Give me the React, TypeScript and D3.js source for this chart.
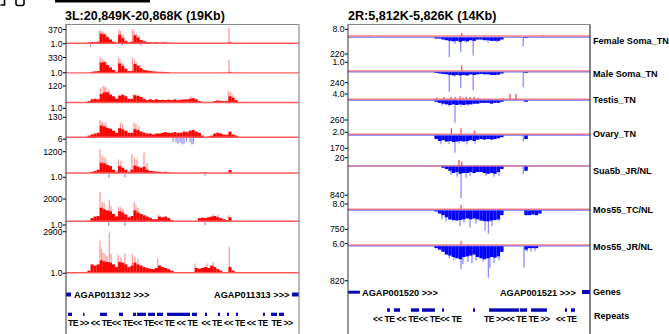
import * as d3 from 'd3';

type Pt = [number, number];

// ---------- left view: 3L, positions in kb from window start ----------
const leftTitle = '3L:20,849K-20,868K (19Kb)';
const leftSpanKb = 19;
const leftTopTicks = ['370', '330', '120', '130', '1200', '2000', '2900'];
const leftBottomTicks = ['1.0', '1.0', '1.0', '6', '1.0', '1.0', '1.0'];
const leftBinStart = 1.75;
const leftBinKb = 0.25;

// mean signal per 250bp bin (red body)
const l1Bins = [1.5, 1.8, 1.6, 2, 60, 45, 14, 5, 2, 1.3, 40, 10, 3, 1.5, 2, 30, 12, 4, 2.5, 1.8, 1.5, 1.4, 1.6, 1.3, 1.5, 1.4, 1.3, 0, 0, 0, 0, 0, 0, 0, 0, 0, 0, 0, 0, 0, 0, 0, 0, 0, 0, 0, 1.5, 0, 0, 0, 0];
const l2Bins = [1, 1.5, 1.8, 2, 50, 60, 20, 8, 3, 1.5, 35, 15, 5, 2, 2, 30, 15, 6, 3, 2.5, 2, 1.8, 1.6, 1.5, 1.5, 1.4, 1.3, 0, 0, 0, 0, 0, 0, 0, 0, 0, 0, 0, 0, 0, 0, 0, 0, 0, 0, 0, 1.5, 0, 0, 0, 0];
const l3Bins = [1.5, 2.5, 3, 2.5, 12, 18, 20, 10, 6, 3, 7, 9, 6, 3, 3, 8, 7, 5, 3, 2, 2.5, 2, 2.5, 2, 2.2, 2, 2.3, 2, 2.5, 2, 2.2, 2.5, 2.5, 3, 3.5, 2.5, 1.5, 1.2, 0, 0, 0, 1.5, 1.8, 1.6, 1.5, 1.6, 6, 4, 2, 0, 0];
const l4Bins = [1.5, 2, 2.5, 3, 18, 14, 10, 8, 5, 3, 9, 7, 5, 3, 3, 7, 6, 4, 3, 2.5, 2.5, 2, 2.5, 2.5, 3, 3.5, 3, 3, 3.5, 3, 3, 4, 3.5, 5, 6, 4, 3, 1.5, 0, 1.2, 1.5, 2.5, 3, 2.5, 2, 1.8, 4, 2, 1.5, 0, 0];
const l5Bins = [0, 1.5, 2, 3, 30, 25, 15, 10, 3, 1.5, 10, 6, 3, 1.5, 3, 12, 8, 6, 8, 3, 2, 1.8, 1.6, 1.5, 1.3, 1.5, 1.2, 0, 0, 0, 0, 0, 0, 0, 0, 0, 0, 0, 1.3, 0, 0, 0, 0, 0, 0, 0, 2.7, 0, 0, 0, 0];
const l6Bins = [1.2, 3, 5, 6, 100, 60, 40, 30, 12, 5, 30, 20, 10, 4, 6, 40, 20, 12, 8, 5, 3, 2, 2, 5, 4, 5, 3, 1.5, 0, 0, 0, 0, 0, 0, 0, 0, 3, 3.5, 3, 4, 5, 6, 4, 3, 2, 1.5, 4, 0, 0, 0, 0];
const l7Bins = [1.5, 5, 4, 5, 11, 9, 8, 7, 5, 3, 8, 7, 5, 3, 4, 7, 5, 4, 3, 2.5, 2.2, 2, 2.5, 4, 3, 2.5, 2, 1.5, 0, 0, 0, 0, 0, 0, 0, 2.5, 2.2, 2.5, 3, 2.5, 4, 3, 2, 1.5, 0, 0, 3, 1.5, 0, 0, 0];

// max signal spikes [kb, value] (pink)
const l1Peaks: Pt[] = [[2.73, 270], [2.85, 200], [3.02, 150], [3.18, 90], [3.34, 40], [4.32, 370], [4.44, 200], [4.65, 50], [5.42, 400], [5.55, 180], [5.71, 60], [5.95, 25], [13.29, 900]];
const l2Peaks: Pt[] = [[2.77, 450], [2.94, 200], [3.1, 120], [3.34, 50], [4.28, 300], [4.4, 150], [4.65, 40], [5.42, 320], [5.59, 140], [5.79, 50], [6.03, 20], [13.29, 130]];
const l3Peaks: Pt[] = [[2.81, 60], [3.02, 120], [3.14, 100], [3.26, 70], [3.51, 40], [4.32, 10], [4.57, 12], [4.81, 8], [5.5, 12], [5.63, 11], [5.87, 7], [10.19, 6], [13.25, 31], [13.41, 20], [13.62, 10]];
const l4Peaks: Pt[] = [[2.77, 67], [2.94, 50], [3.1, 40], [3.26, 30], [4.44, 35], [4.61, 25], [5.55, 35], [5.71, 25], [5.95, 15], [10.19, 5], [10.36, 5], [13.29, 3]];
const l5Peaks: Pt[] = [[2.77, 2500], [2.94, 300], [3.1, 200], [3.26, 100], [4.28, 95], [4.49, 60], [5.38, 550], [5.59, 150], [5.79, 100], [6.36, 850], [6.61, 30]];
const l6Peaks: Pt[] = [[2.77, 24000], [2.94, 800], [3.1, 600], [3.53, 1400], [3.67, 200], [4.28, 130], [4.44, 120], [4.61, 80], [5.57, 640], [5.71, 150], [5.87, 90], [7.54, 10], [11.99, 12], [12.4, 10], [13.29, 8]];
const l7Peaks: Pt[] = [[2.77, 500], [2.89, 100], [3.02, 50], [3.18, 40], [3.34, 25], [3.53, 2400], [3.67, 40], [4.26, 31], [4.49, 20], [4.81, 43], [5.41, 40], [5.63, 20], [5.87, 15], [7.48, 16], [10.52, 6], [11.5, 6], [11.99, 8], [13.32, 150]];

// antisense reads (blue, below)
const l1Neg: Pt[] = [[2.01, 3.3], [4.6, 2], [6.1, 2]];
const l4Neg: Pt[] = [[8.73, 2.5], [8.97, 3], [9.13, 4], [9.3, 3], [9.46, 5], [9.62, 4], [9.83, 2.5], [10.11, 3], [10.27, 5], [10.4, 4]];
const l5Neg: Pt[] = [[3.51, 3.8], [4.81, 3.5], [11.34, 2]];
const l6Neg: Pt[] = [[3.48, 4], [4.81, 4], [11.34, 3]];

const leftBins = [l1Bins, l2Bins, l3Bins, l4Bins, l5Bins, l6Bins, l7Bins];
const leftPeaks = [l1Peaks, l2Peaks, l3Peaks, l4Peaks, l5Peaks, l6Peaks, l7Peaks];
const leftNeg: Pt[][] = [l1Neg, [], [], l4Neg, l5Neg, l6Neg, []];

const leftGenes = [
  { name: 'AGAP011312 >>>', start: 0, end: 0.41, labelAt: 0.65 },
  { name: 'AGAP011313 >>>', start: 18.43, end: 19, labelAt: 12.07 },
];
const leftRepeats: Pt[] = [[0.16, 0.49], [1.39, 1.51], [2.77, 3.34], [4.32, 4.65], [5.46, 5.71], [5.79, 6.52], [6.69, 7.26], [7.42, 7.91], [8.24, 10.11], [10.27, 10.68], [11.33, 11.5], [12.39, 12.56], [13.13, 13.29], [13.86, 14.03], [16.06, 16.22], [16.72, 17.21], [17.37, 17.78]];
const leftRepeatLabels = [{ text: 'TE >> << TE<< TE<< TE<< TE << TE  << TE << TE << TE  TE >>', start: 0.16, end: 18.51 }];

// ---------- right view: 2R ----------
const rightTitle = '2R:5,812K-5,826K (14Kb)';
const rightSpanKb = 14;
const rightNames = ['Female Soma_TN', 'Male Soma_TN', 'Testis_TN', 'Ovary_TN', 'Sua5b_JR/NL', 'Mos55_TC/NL', 'Mos55_JR/NL'];
const rightTopTicks = ['8.0', '1.0', '4.0', '2.0', '20', '8.0', '6.0'];
const rightBottomTicks = ['220', '240', '260', '170', '840', '750', '820'];
const rightBinStart = 5.0;
const rightBinKb = 0.2;

const r1Bins = [1.5, 1.5, 2, 2.5, 3, 3.5, 3, 4, 3, 3.5, 2.5, 3, 2, 2, 2.5, 2.5, 3, 3, 3, 2, 0, 0, 0, 0, 0, 0, 1.3, 0, 0, 0, 0];
const r2Bins = [1.5, 2, 2.5, 3, 4, 5, 4, 5, 4, 5, 3, 4, 3, 2.5, 3, 3, 4, 4, 3.5, 2, 0, 0, 0, 0, 0, 0, 1.5, 0, 0, 0, 0];
const r3Bins = [1.5, 2, 2.5, 3, 3.5, 3, 3.5, 3, 3.5, 3, 3, 2.5, 2.5, 2, 2, 2, 2.5, 2, 2, 1.5, 0, 0, 0, 0, 0, 0, 1.5, 0, 0, 0, 0];
const r4Bins = [4, 8, 6, 10, 8, 12, 10, 8, 10, 8, 6, 8, 5, 4, 5, 4, 5, 4, 3, 2, 0, 0, 0, 0, 0, 0, 4, 0, 0, 0, 0];
const r5Bins = [0, 0, 1.5, 2, 3, 5, 4, 6, 5, 5, 4, 5, 4, 4, 5, 6, 5, 6, 4, 2, 0, 0, 0, 0, 0, 0, 3, 0, 0, 0, 0];
const r6Bins = [1.5, 3, 5, 10, 20, 25, 30, 25, 20, 15, 20, 15, 20, 30, 35, 40, 30, 25, 20, 5, 0, 0, 0, 0, 0, 0, 5, 5, 4, 5, 3];
const r7Bins = [1.5, 2, 3, 5, 6, 8, 10, 12, 8, 7, 6, 5, 8, 10, 12, 10, 8, 9, 7, 3, 0, 0, 0, 0, 0, 0, 2, 1.5, 1.5, 1.5, 0];

const r1Spikes: Pt[] = [[5.86, 420], [6.52, 78], [7.24, 240], [10.14, 16], [6.19, 7], [6.83, 5], [8.1, 5], [8.62, 5]];
const r2Spikes: Pt[] = [[5.86, 9900], [6.52, 2000], [7.24, 5200], [10.14, 1100], [6.19, 8], [6.83, 6]];
const r3Spikes: Pt[] = [[6.19, 410], [5.84, 5], [6.54, 5], [5.44, 4], [6.94, 4]];
const r4Spikes: Pt[] = [[6.19, 585], [5.38, 27], [5.84, 25], [6.42, 20], [6.88, 30], [7.35, 20], [10.14, 10]];
const r5Spikes: Pt[] = [[6.54, 1650], [5.96, 8], [6.31, 12], [6.83, 15], [7.06, 10], [7.98, 10], [8.45, 12], [8.74, 10], [10.14, 6.6]];
const r6Spikes: Pt[] = [[5.86, 24], [6.48, 200], [7.06, 275], [8.12, 2460], [7.93, 850], [6.07, 40], [6.71, 60], [7.4, 80], [8.33, 200], [8.74, 35], [5.44, 20], [5.67, 40]];
const r7Spikes: Pt[] = [[5.86, 10], [6.54, 79], [8.12, 390], [10.18, 59], [6.13, 15], [6.65, 30], [6.94, 20], [7.17, 25], [7.4, 15], [7.81, 20], [8.21, 60], [8.45, 25], [8.74, 15], [10.36, 3], [10.59, 3], [10.82, 2.5]];

// sense reads (red, above)
const r1Pos: Pt[] = [[6.58, 2.5], [1.27, 1.3], [11.28, 1.5]];
const r2Pos: Pt[] = [[6.58, 1.3]];
const r3Pos: Pt[] = [[9.37, 4], [9.72, 4], [5.15, 1.6], [5.55, 1.8], [5.96, 2], [6.19, 1.8], [6.48, 2.2], [6.65, 1.6], [6.83, 2], [7.06, 1.8], [7.29, 2], [7.52, 1.5], [8.97, 1.3]];
const r4Pos: Pt[] = [[5.98, 8], [6.54, 8], [7.33, 3.1]];
const r5Pos: Pt[] = [[6.42, 8.6], [6.58, 5]];
const r6Pos: Pt[] = [[6.54, 5.4]];
const r7Pos: Pt[] = [[6.54, 120]];

const rightBins = [r1Bins, r2Bins, r3Bins, r4Bins, r5Bins, r6Bins, r7Bins];
const rightSpikes = [r1Spikes, r2Spikes, r3Spikes, r4Spikes, r5Spikes, r6Spikes, r7Spikes];
const rightPos = [r1Pos, r2Pos, r3Pos, r4Pos, r5Pos, r6Pos, r7Pos];

const rightGenes = [
  { name: 'AGAP001520 >>>', start: 0, end: 0.69, labelAt: 0.81 },
  { name: 'AGAP001521 >>>', start: 13.54, end: 14, labelAt: 8.79 },
];
const rightRepeats: Pt[] = [[2.26, 2.43], [2.66, 3.01], [3.64, 4.11], [4.28, 5.03], [5.44, 5.55], [7.23, 7.35], [8.16, 9.9], [9.95, 10.36], [10.59, 11.51], [12.55, 12.67], [12.9, 13.13]];
const rightRepeatLabels = [
  { text: '<< TE << TE<< TE<< TE', start: 1.45, end: 6.6 },
  { text: 'TE >><< TE TE >>', start: 7.87, end: 11.69 },
  { text: '<< TE', start: 12.03, end: 13.25 },
];

const font = "'Liberation Sans', Arial, Helvetica, sans-serif";
const RED = '#ff0000';
const PINK = '#ff9a9a';
const BLUE = '#0000ff';
const LBLUE = '#8c8cff';
const GENE = '#0a0ab4';

function heightFn(max: number, span: number) {
  const s = d3.scaleLog().domain([1, max]).range([0, span]);
  return (v: number) => (v > 1 ? s(v) : 0);
}

export default function App() {
  const lx = d3.scaleLinear().domain([0, leftSpanKb]).range([66, 299]);
  const rx = d3.scaleLinear().domain([0, rightSpanKb]).range([348, 590]);

  const leftTop = [29.5, 57.5, 86, 117.3, 151.7, 199, 231.7];
  const leftBase = [43.3, 72.9, 102.5, 137.3, 173, 221.3, 272.7];
  const leftBottomY = [43.7, 72.7, 108.3, 139.3, 177.3, 225, 273.3];

  const rightTop = [29.3, 62.3, 94, 132.3, 157.7, 204, 243.5];
  const rightBase = [36, 71, 99.3, 134.3, 166, 209.3, 245];
  const rightBlueOff = [1.2, 1, 1, 1, 0, 1, 1];
  const rightBottom = [54, 82.7, 120, 148.3, 195.3, 229.3, 280.7];
  const rightNameY = [40.7, 74, 100, 134, 171, 210, 246.7];

  const binRects = (x: d3.ScaleLinear<number, number>, bins: number[], start: number, size: number, y0: number, h: (v: number) => number, up: boolean, color: string) =>
    bins.map((v, i) => {
      const hh = h(v);
      if (hh <= 0) return null;
      const x0 = x(start + i * size);
      const x1 = x(start + (i + 1) * size);
      return <rect key={i} x={x0} y={up ? y0 - hh : y0} width={x1 - x0} height={hh} fill={color} />;
    });

  const spikes = (x: d3.ScaleLinear<number, number>, pts: Pt[], y0: number, h: (v: number) => number, up: boolean, color: string, w = 1.2) =>
    pts.map(([k, v], i) => {
      const hh = h(v);
      const xx = x(k);
      return <line key={i} x1={xx} x2={xx} y1={y0} y2={up ? y0 - hh : y0 + hh} stroke={color} strokeWidth={w} />;
    });

  const tick = (xAxis: number, y: number, label: string, key: string) => (
    <g key={key}>
      <line x1={xAxis - 3} x2={xAxis} y1={y} y2={y} stroke="#000" strokeWidth={1} />
      <text x={xAxis - 3.5} y={y} dy="0.35em" textAnchor="end" fontSize={8.7} fontFamily={font} fill="#000">{label}</text>
    </g>
  );

  return (
    <svg width={669} height={334} style={{ position: 'absolute', left: 0, top: 0, background: '#fff' }}>
      <rect x={0} y={0} width={669} height={334} fill="#fff" />
      {/* clipped caption remnants at the very top */}
      <path d="M0.5,5 H4.5 V0" fill="none" stroke="#000" strokeWidth={1.6} />
      <path d="M16,0 V3.5 Q16,5.5 18,5.5 H22 Q24,5.5 24,3.5 V0" fill="none" stroke="#000" strokeWidth={1.6} />
      <rect x={55} y={0} width={95} height={2.5} fill="#000" />

      <text x={65} y={20} fontSize={12.5} fontWeight="bold" fontFamily={font}>{leftTitle}</text>
      <text x={348} y={20} fontSize={12.6} fontWeight="bold" fontFamily={font}>{rightTitle}</text>

      {/* ---------- left panel ---------- */}
      <g>
        {leftBins.map((bins, i) => {
          const max = +leftTopTicks[i];
          const h = heightFn(max, leftBase[i] - leftTop[i]);
          return (
            <g key={i}>
              {spikes(lx, leftPeaks[i], leftBase[i], h, true, PINK, 1.3)}
              {binRects(lx, bins, leftBinStart, leftBinKb, leftBase[i], h, true, RED)}
              <line x1={66} x2={299} y1={leftBase[i]} y2={leftBase[i]} stroke="#ff5a5a" strokeWidth={1.4} />
              {spikes(lx, leftNeg[i], leftBase[i] + 0.7, h, false, LBLUE, 1.2)}
              {tick(66, leftTop[i], leftTopTicks[i], 't')}
              {tick(66, leftBottomY[i], leftBottomTicks[i], 'b')}
            </g>
          );
        })}
        {leftGenes.map((g, i) => (
          <g key={i}>
            <rect x={lx(g.start)} y={292.5} width={lx(g.end) - lx(g.start)} height={4} fill={GENE} />
            <text x={lx(g.labelAt)} y={294.5} dy="0.35em" fontSize={9.2} fontWeight="bold" fontFamily={font}>{g.name}</text>
          </g>
        ))}
        {leftRepeats.map(([s, e], i) => (
          <rect key={i} x={lx(s)} y={312.7} width={lx(e) - lx(s)} height={3.3} fill={GENE} />
        ))}
        {leftRepeatLabels.map((r, i) => (
          <text key={i} x={lx(r.start)} y={323.3} dy="0.35em" fontSize={8.6} fontWeight="bold" fontFamily={font}
            textLength={lx(r.end) - lx(r.start)} lengthAdjust="spacing" style={{ whiteSpace: 'pre' }}>{r.text}</text>
        ))}
        <line x1={66} x2={299} y1={24.5} y2={24.5} stroke="#8a8a8a" strokeWidth={1} />
        <line x1={66} x2={66} y1={24.5} y2={334} stroke="#333" strokeWidth={1} />
        <line x1={299} x2={299} y1={24.5} y2={334} stroke="#8a8a8a" strokeWidth={1.2} />
      </g>

      {/* ---------- right panel ---------- */}
      <g>
        {rightBins.map((bins, i) => {
          const posMax = Math.max(+rightTopTicks[i], 1.5);
          const negMax = +rightBottomTicks[i];
          const hp = heightFn(posMax, rightBase[i] - rightTop[i]);
          const hn = heightFn(negMax, rightBottom[i] - rightBase[i]);
          const nb = rightBase[i] + rightBlueOff[i];
          return (
            <g key={i}>
              {spikes(rx, rightSpikes[i], nb, hn, false, LBLUE, 1.3)}
              {binRects(rx, bins, rightBinStart, rightBinKb, nb, hn, false, BLUE)}
              {spikes(rx, rightPos[i], rightBase[i], hp, true, '#ff3a3a', 1.2)}
              <line x1={348} x2={590} y1={rightBase[i]} y2={rightBase[i]} stroke="#ff6a6a" strokeWidth={1.4} opacity={0.85} />
              <line x1={348} x2={590} y1={nb} y2={nb} stroke="#5a5aff" strokeWidth={1.1} opacity={i === 4 ? 0.6 : 0.85} />
              {tick(348, rightTop[i], rightTopTicks[i], 't')}
              {tick(348, rightBottom[i], rightBottomTicks[i], 'b')}
              <text x={593} y={rightNameY[i]} dy="0.35em" fontSize={9.1} fontWeight="bold" fontFamily={font}>{rightNames[i]}</text>
            </g>
          );
        })}
        {rightGenes.map((g, i) => (
          <g key={i}>
            <rect x={rx(g.start)} y={i === 0 ? 290.7 : 290} width={rx(g.end) - rx(g.start)} height={i === 0 ? 3 : 4} fill={GENE} />
            <text x={rx(g.labelAt)} y={292.3} dy="0.35em" fontSize={9.2} fontWeight="bold" fontFamily={font}>{g.name}</text>
          </g>
        ))}
        {rightRepeats.map(([s, e], i) => (
          <rect key={i} x={rx(s)} y={308.3} width={rx(e) - rx(s)} height={3.5} fill={GENE} />
        ))}
        {rightRepeatLabels.map((r, i) => (
          <text key={i} x={rx(r.start)} y={319.3} dy="0.35em" fontSize={8.6} fontWeight="bold" fontFamily={font}
            textLength={rx(r.end) - rx(r.start)} lengthAdjust="spacing" style={{ whiteSpace: 'pre' }}>{r.text}</text>
        ))}
        <text x={593} y={292.3} dy="0.35em" fontSize={9.1} fontWeight="bold" fontFamily={font}>Genes</text>
        <text x={594} y={315.7} dy="0.35em" fontSize={9.1} fontWeight="bold" fontFamily={font}>Repeats</text>
        <line x1={348} x2={590} y1={24.5} y2={24.5} stroke="#8a8a8a" strokeWidth={1} />
        <line x1={348} x2={348} y1={24.5} y2={334} stroke="#333" strokeWidth={1} />
        <line x1={590} x2={590} y1={24.5} y2={334} stroke="#333" strokeWidth={1.2} />
      </g>
    </svg>
  );
}
